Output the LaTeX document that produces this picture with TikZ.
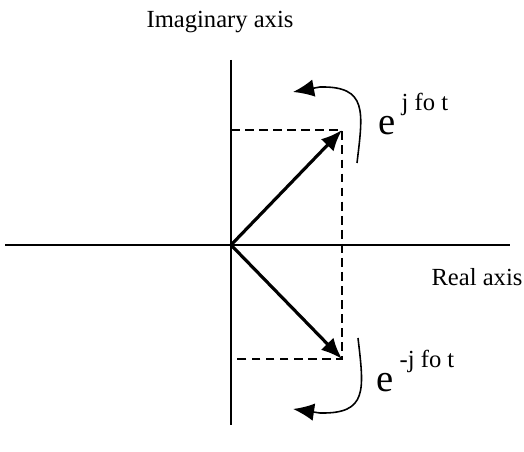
\documentclass[tikz,border=0pt]{standalone}
\usepackage{fontspec}
\setmainfont{Liberation Serif}
\usetikzlibrary{arrows.meta}
\tikzset{
  axis/.style={line width=0.8pt},
  phasor/.style={line width=1.8pt, -{Latex[length=12pt,width=10pt]}},
  proj/.style={dashed, line width=0.9pt, dash pattern=on 5pt off 3pt},
  turn/.style={line width=0.9pt, -{Latex[length=12pt,width=10pt]}},
  lbl/.style={inner sep=0pt, font=\fontsize{14}{16}\selectfont},
  expo/.style={inner sep=0pt, anchor=base west, font=\fontsize{22}{24}\selectfont}
}
\begin{document}
\begin{tikzpicture}[x=0.02cm, y=-0.02cm]
  \useasboundingbox (0,0) rectangle (524,452);
  % axes
  \coordinate (o) at (231,245);
  \coordinate (top) at (231,60);
  \coordinate (bot) at (231,425);
  \coordinate (left) at (5,245);
  \coordinate (right) at (510,245);
  \draw[axis] (top) -- (bot);
  \draw[axis] (left) -- (right);
  \node[lbl] (im) at (220,22) {Imaginary axis};
  \node[lbl] (re) at (477,277) {Real axis};
  % phasors
  \coordinate (p) at (342,130);
  \coordinate (q) at (342,359);
  \draw[proj] (231,130) -- (p) -- (q) -- (231,359);
  \draw[phasor] (o) -- (p);
  \draw[phasor] (o) -- (q);
  % rotation arrows
  \draw[turn] (357,163) .. controls (363,112) and (368,86) .. (320,87) -- (293,92);
  \draw[turn] (358,338) .. controls (364,390) and (368,414) .. (320,413) -- (293,409);
  \node[expo] (ep) at (378,135) {e\raisebox{14pt}{\fontsize{14}{16}\selectfont\ j fo t}};
  \node[expo] (em) at (376,392) {e\raisebox{14pt}{\fontsize{14}{16}\selectfont\ -j fo t}};
\end{tikzpicture}
\end{document}
